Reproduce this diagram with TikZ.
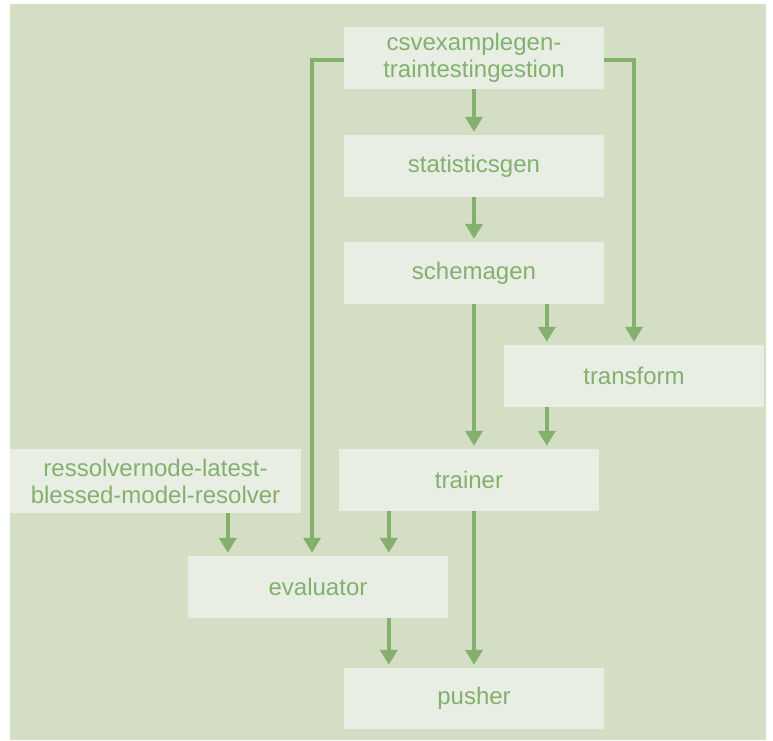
\documentclass[tikz,border=0pt]{standalone}
\usepackage{fontspec}
\setmainfont{Liberation Sans}
\usetikzlibrary{arrows.meta}
\definecolor{panelbg}{HTML}{D3DEC5}
\definecolor{boxfill}{HTML}{E8EEE4}
\definecolor{leaf}{HTML}{84B06E}
\tikzset{
  stage/.style={fill=boxfill, draw=none, minimum width=260pt, minimum height=62pt,
    inner sep=0pt, align=center, text=leaf, font=\fontsize{24}{27}\selectfont},
  flow/.style={draw=leaf, line width=4pt, -{Triangle[width=17pt,length=15pt]}, shorten >=3pt}
}
\begin{document}
\begin{tikzpicture}[x=1pt,y=-1pt]
\useasboundingbox (0,0) rectangle (773,740);
\fill[panelbg] (10,4) rectangle (766,740);

\node[stage] (csv) at (474,58) {csvexamplegen-\\traintestingestion};
\node[stage] (stats) at (474,166) {statisticsgen};
\node[stage] (schema) at (474,273) {schemagen};
\node[stage] (transform) at (634,376) {transform};
\node[stage] (trainer) at (469,480) {trainer};
\node[stage, minimum width=291pt, minimum height=64pt] (resolver) at (155.5,481) {ressolvernode-latest-\\blessed-model-resolver};
\node[stage] (evaluator) at (318,587) {evaluator};
\node[stage, minimum height=61pt] (pusher) at (474,698.5) {pusher};

\draw[flow] (csv) -- (stats);
\draw[flow] (stats) -- (schema);
\draw[flow] (schema.south) -- (schema.south |- trainer.north);
\draw[flow] ([xshift=43pt]transform.north west |- schema.south) -- ([xshift=43pt]transform.north west);
\draw[flow] ([xshift=43pt]transform.south west) -- ([xshift=43pt]transform.south west |- trainer.north);
\draw[flow] ([yshift=-2pt]csv.east) -- ([yshift=-2pt]csv.east -| transform.north) -- (transform.north);
\draw[flow] ([yshift=-2pt]csv.west) -- ([yshift=-2pt,xshift=-6pt]csv.west -| evaluator.north) -- ([xshift=-6pt]evaluator.north);
\draw[flow] ([xshift=40pt]evaluator.north west |- resolver.south) -- ([xshift=40pt]evaluator.north west);
\draw[flow] ([xshift=50pt]trainer.south west) -- ([xshift=50pt]trainer.south west |- evaluator.north);
\draw[flow] ([xshift=45pt]pusher.north west |- evaluator.south) -- ([xshift=45pt]pusher.north west);
\draw[flow] (pusher.north |- trainer.south) -- (pusher.north);
\end{tikzpicture}
\end{document}
